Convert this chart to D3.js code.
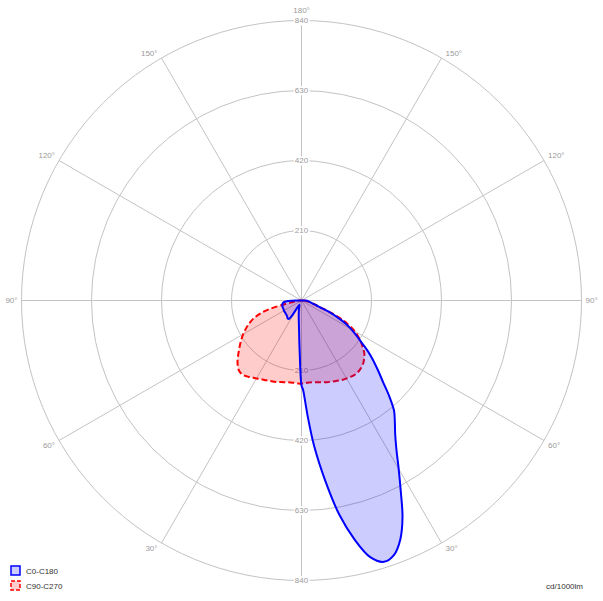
<!DOCTYPE html>
<html>
<head>
<meta charset="utf-8">
<script src="https://cdn.jsdelivr.net/npm/d3@7"></script>
<style>
  body { margin: 0; background: #fff; }
  text { font-family: "Liberation Sans", Arial, sans-serif; }
</style>
</head>
<body>
<svg id="chart" width="603" height="601"></svg>
<script>
// gamma angles (deg from nadir) and intensities in cd/1000lm
var gamma = [0, 1, 2, 3, 5, 7.5, 10, 12.5, 15, 17.5, 20, 22.5, 25, 27.5, 30, 32.5, 35, 37.5, 40, 42.5,
             45, 47.5, 50, 52.5, 55, 57.5, 60, 62.5, 65, 67.5, 70, 72.5, 75, 77.5, 80, 82.5, 85, 87.5, 90];
var c0   = [255, 268, 300, 345, 440, 545, 652, 734, 797, 822, 812, 775, 717, 645, 583, 530, 490, 460, 432, 390,
            346, 312, 282, 252, 220, 195, 172, 148, 118, 88, 58, 45, 35, 29, 25, 22, 20, 18, 8];
var c180 = [255, 205, 155, 125, 85, 62, 48, 38, 30, 24, 19, 16, 15, 16, 22, 58, 68, 68, 66, 64,
            63, 62, 62, 61, 61, 61, 61, 60, 60, 60, 60, 60, 59, 59, 58, 56, 52, 40, 15];
var c90  = [250, 249, 249, 248, 247, 247, 249, 251, 254, 257, 259, 262, 265, 268, 270, 272, 274, 274, 272, 268,
            263, 255, 246, 232, 218, 202, 185, 160, 135, 95, 60, 45, 35, 28, 20, 15, 10, 7, 5];
var c270 = [250, 250, 249, 249, 248, 248, 249, 251, 253, 256, 258, 260, 263, 266, 270, 274, 279, 283, 284, 280,
            271, 260, 247, 235, 224, 213, 202, 190, 178, 165, 150, 130, 100, 55, 30, 18, 12, 8, 5];

var ringValues = [210, 420, 630, 840];
var angleLabels = [30, 60, 90, 120, 150];
var legendNames = ["C0-C180", "C90-C270"];
var unitLabel = "cd/1000lm";

var svg = d3.select("#chart");
var cx = 301.5, cy = 300.5;
var rScale = d3.scaleLinear().domain([0, 840]).range([0, 280]);
var rad = Math.PI / 180;
var gridColor = "#c3c3c3";
var labelColor = "#9a9a9a";

var plot = svg.append("g").attr("transform", "translate(" + cx + "," + cy + ")");

// grid rings
plot.selectAll("circle.ring").data(ringValues).enter()
  .append("circle")
    .attr("class", "ring")
    .attr("r", function(d) { return rScale(d); })
    .style("fill", "none")
    .style("stroke", gridColor)
    .style("stroke-width", "1px");

// spokes every 30 degrees
plot.selectAll("line.spoke").data(d3.range(0, 360, 30)).enter()
  .append("line")
    .attr("class", "spoke")
    .attr("x1", 0).attr("y1", 0)
    .attr("x2", function(d) { return rScale(840) * Math.sin(d * rad); })
    .attr("y2", function(d) { return rScale(840) * Math.cos(d * rad); })
    .style("stroke", gridColor)
    .style("stroke-width", "1px");

// ring value labels on the vertical axis, white box behind
var valueLabels = [];
ringValues.forEach(function(v) {
  valueLabels.push({v: v, y: -rScale(v)});
  valueLabels.push({v: v, y: rScale(v)});
});
var vl = plot.selectAll("g.vlabel").data(valueLabels).enter()
  .append("g").attr("class", "vlabel");
vl.append("rect");
vl.append("text")
    .attr("x", 0)
    .attr("y", function(d) { return d.y; })
    .attr("dy", "0.35em")
    .attr("text-anchor", "middle")
    .style("font-size", "8px")
    .style("fill", labelColor)
    .text(function(d) { return d.v; });
vl.each(function() {
  var b = d3.select(this).select("text").node().getBBox();
  d3.select(this).select("rect")
    .attr("x", b.x - 1).attr("y", b.y)
    .attr("width", b.width + 2).attr("height", b.height)
    .style("fill", "#fff");
});

// angle labels round the outer ring
angleLabels.forEach(function(a) {
  var R = rScale(840);
  var px = R * Math.sin(a * rad);
  var py = R * Math.cos(a * rad);
  var dy = a < 90 ? 5 : (a > 90 ? -5 : 0);
  plot.append("text")
    .attr("x", -px - 4).attr("y", py + dy).attr("dy", "0.35em")
    .attr("text-anchor", "end")
    .style("font-size", "8px").style("fill", labelColor)
    .text(a + "°");
  plot.append("text")
    .attr("x", px + 4).attr("y", py + dy).attr("dy", "0.35em")
    .attr("text-anchor", "start")
    .style("font-size", "8px").style("fill", labelColor)
    .text(a + "°");
});
plot.append("text")
  .attr("x", 0).attr("y", -rScale(840) - 10).attr("dy", "0.35em")
  .attr("text-anchor", "middle")
  .style("font-size", "8px").style("fill", labelColor)
  .text("180°");

// build closed polar outline: right half from 90 down to 0, left half from 0 up to 90
function outline(right, left) {
  var pts = [];
  for (var i = gamma.length - 1; i >= 0; i--) {
    pts.push([Math.PI - gamma[i] * rad, rScale(right[i])]);
  }
  for (var j = 1; j < gamma.length; j++) {
    pts.push([Math.PI + gamma[j] * rad, rScale(left[j])]);
  }
  return pts;
}

var radial = d3.lineRadial()
  .angle(function(d) { return d[0]; })
  .radius(function(d) { return d[1]; })
  .curve(d3.curveCatmullRomClosed.alpha(0.5));

// C90-C270 first, then C0-C180 over it
plot.append("path")
  .attr("d", radial(outline(c90, c270)))
  .style("fill", "rgba(255,0,0,0.2)")
  .style("stroke", "#ff0000")
  .style("stroke-width", "2px")
  .style("stroke-dasharray", "6,3");

plot.append("path")
  .attr("d", radial(outline(c0, c180)))
  .style("fill", "rgba(0,0,255,0.2)")
  .style("stroke", "#0000ff")
  .style("stroke-width", "2px");

// legend
var legend = svg.append("g").attr("transform", "translate(11,566)");
legend.append("rect")
  .attr("x", 0).attr("y", 0).attr("width", 9).attr("height", 9)
  .style("fill", "rgba(0,0,255,0.2)").style("stroke", "#0000ff").style("stroke-width", "1.5px");
legend.append("rect")
  .attr("x", 0).attr("y", 15).attr("width", 9).attr("height", 9)
  .style("fill", "rgba(255,0,0,0.2)").style("stroke", "#ff0000").style("stroke-width", "1.5px")
  .style("stroke-dasharray", "4,2");
legend.selectAll("text").data(legendNames).enter()
  .append("text")
    .attr("x", 15)
    .attr("y", function(d, i) { return 7.5 + i * 15; })
    .style("font-size", "8px")
    .style("fill", "#333")
    .text(function(d) { return d; });

svg.append("text")
  .attr("x", 583).attr("y", 589)
  .attr("text-anchor", "end")
  .style("font-size", "8px")
  .style("fill", "#333")
  .text(unitLabel);
</script>
</body>
</html>
